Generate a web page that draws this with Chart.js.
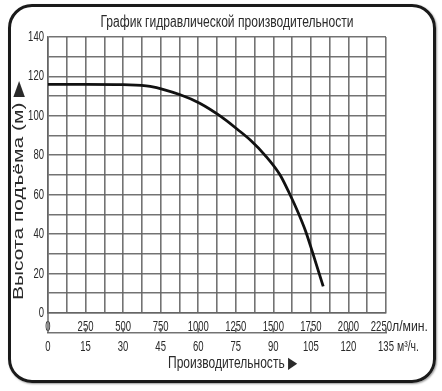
<!DOCTYPE html>
<html>
<head>
<meta charset="utf-8">
<script src="https://cdn.jsdelivr.net/npm/chart.js@4"></script>
<style>
  html, body { margin: 0; padding: 0; background: #fff; }
  #frame {
    position: absolute; left: 8px; top: 4px; width: 428px; height: 379px;
    box-sizing: border-box; border: 3px solid #1a1a1a; border-radius: 24px;
    box-shadow: 1px 1px 2px rgba(0,0,0,0.4);
  }
  #wrap { position: absolute; left: 0; top: 0; width: 442px; height: 391px; }
</style>
</head>
<body>
<div id="frame"></div>
<div id="wrap"><canvas id="pumpChart"></canvas></div>
<script>
// Chart texts
const chartTitle = 'График гидравлической производительности';
const yTitle = 'Высота подъёма (м) ▶';
const xTitle = 'Производительность ▶';
const flowUnit = 'л/мин.';
const volUnit = 'м³/ч.';

// Flow rate (l/min) and head (m)
const flowLpm = [0, 250, 500, 680, 880, 1010, 1150, 1260, 1350, 1445, 1545, 1605, 1665, 1715, 1760, 1832];
const headM = [116, 116, 115.8, 115, 110.7, 106.4, 99.7, 93.2, 87.5, 80, 70, 61, 51, 41.5, 31, 13.5];

// Axis ranges
const flowMax = 2250;
const flowStep = 125;
const flowLabelStep = 250;
const volMax = 135;
const volStep = 15;
const headMax = 140;
const headStep = 10;
const headLabelStep = 20;

const fontFamily = "'Liberation Sans', Arial, sans-serif";
const gridColor = 'rgba(100, 100, 100, 0.9)';
const textColor = '#2a2a2a';

// Draw text squeezed horizontally (the original uses a narrow face)
function drawText(ctx, text, x, y, size, align, sx) {
    ctx.save();
    ctx.font = size + 'px ' + fontFamily;
    ctx.textAlign = align;
    ctx.textBaseline = 'alphabetic';
    ctx.translate(x, y);
    ctx.scale(sx, 1);
    ctx.fillText(text, 0, 0);
    ctx.restore();
}

// Same, but squeeze to a given width
function fitText(ctx, text, x, y, size, align, width) {
    ctx.save();
    ctx.font = size + 'px ' + fontFamily;
    const w = ctx.measureText(text).width;
    ctx.restore();
    drawText(ctx, text, x, y, size, align, width / w);
}

const extras = {
    id: 'extras',
    afterDraw(chart) {
        const { ctx, chartArea, scales } = chart;
        const x = scales.x, x2 = scales.x2, y = scales.y;
        const sx = 0.68;
        ctx.save();
        ctx.fillStyle = textColor;

        // Tick labels (the last flow label sits left of its unit)
        x.ticks.forEach(t => {
            if (t.value % flowLabelStep !== 0) return;
            if (t.value === flowMax) {
                drawText(ctx, String(t.value), chartArea.right + 6, 330.5, 14, 'right', sx);
            } else {
                drawText(ctx, String(t.value), x.getPixelForValue(t.value), 330.5, 14, 'center', sx);
            }
        });
        x2.ticks.forEach(t => {
            drawText(ctx, String(t.value), x2.getPixelForValue(t.value), 350.5, 14, 'center', sx);
        });
        y.ticks.forEach(t => {
            if (t.value % headLabelStep !== 0) return;
            drawText(ctx, String(t.value), chartArea.left - 4, y.getPixelForValue(t.value) + 4, 14, 'right', sx);
        });

        // Units after the last ticks
        fitText(ctx, flowUnit, chartArea.right + 6, 330.5, 14, 'left', 36);
        fitText(ctx, volUnit, chartArea.right + 11, 350.5, 14, 'left', 22);

        // Titles
        fitText(ctx, chartTitle, 227, 27, 16, 'center', 253);
        fitText(ctx, xTitle, 168, 368, 16, 'left', 129);

        ctx.save();
        ctx.translate(23, 190);
        ctx.rotate(-Math.PI / 2);
        fitText(ctx, yTitle, 0, 0, 15, 'center', 220);
        ctx.restore();

        // Upward tick marks on the m3/h line
        ctx.strokeStyle = gridColor;
        ctx.lineWidth = 1.6;
        ctx.beginPath();
        x2.ticks.forEach(t => {
            const px = x2.getPixelForValue(t.value);
            ctx.moveTo(px, x2.top - 5);
            ctx.lineTo(px, x2.top);
        });
        ctx.moveTo(chartArea.left, chartArea.bottom);
        ctx.lineTo(chartArea.left, x2.top);
        ctx.stroke();
        ctx.restore();
    }
};

const ctx = document.getElementById('pumpChart');

new Chart(ctx, {
    type: 'line',
    data: {
        datasets: [{
            data: flowLpm.map((q, i) => ({ x: q, y: headM[i] })),
            borderColor: '#111',
            borderWidth: 2.8,
            pointRadius: 0,
            cubicInterpolationMode: 'monotone',
            fill: false
        }]
    },
    options: {
        responsive: true,
        maintainAspectRatio: false,
        animation: false,
        layout: { padding: { left: 0, right: 56, top: 37, bottom: 0 } },
        plugins: {
            legend: { display: false },
            tooltip: { enabled: false }
        },
        scales: {
            x: {
                type: 'linear',
                position: 'bottom',
                min: 0,
                max: flowMax,
                afterFit: s => { s.height = 20; },
                grid: { color: gridColor, lineWidth: 1.6, drawTicks: false },
                border: { color: gridColor, width: 1.6 },
                ticks: { stepSize: flowStep, autoSkip: false, display: false }
            },
            x2: {
                type: 'linear',
                position: 'bottom',
                min: 0,
                max: volMax,
                afterFit: s => { s.height = 58; },
                grid: { display: false, drawTicks: false },
                border: { display: true, color: gridColor, width: 1.6 },
                ticks: { stepSize: volStep, autoSkip: false, display: false }
            },
            y: {
                min: 0,
                max: headMax,
                afterFit: s => { s.width = 48; },
                grid: { color: gridColor, lineWidth: 1.6, drawTicks: false },
                border: { color: gridColor, width: 1.6 },
                ticks: { stepSize: headStep, autoSkip: false, display: false }
            }
        }
    },
    plugins: [extras]
});
</script>
</body>
</html>
